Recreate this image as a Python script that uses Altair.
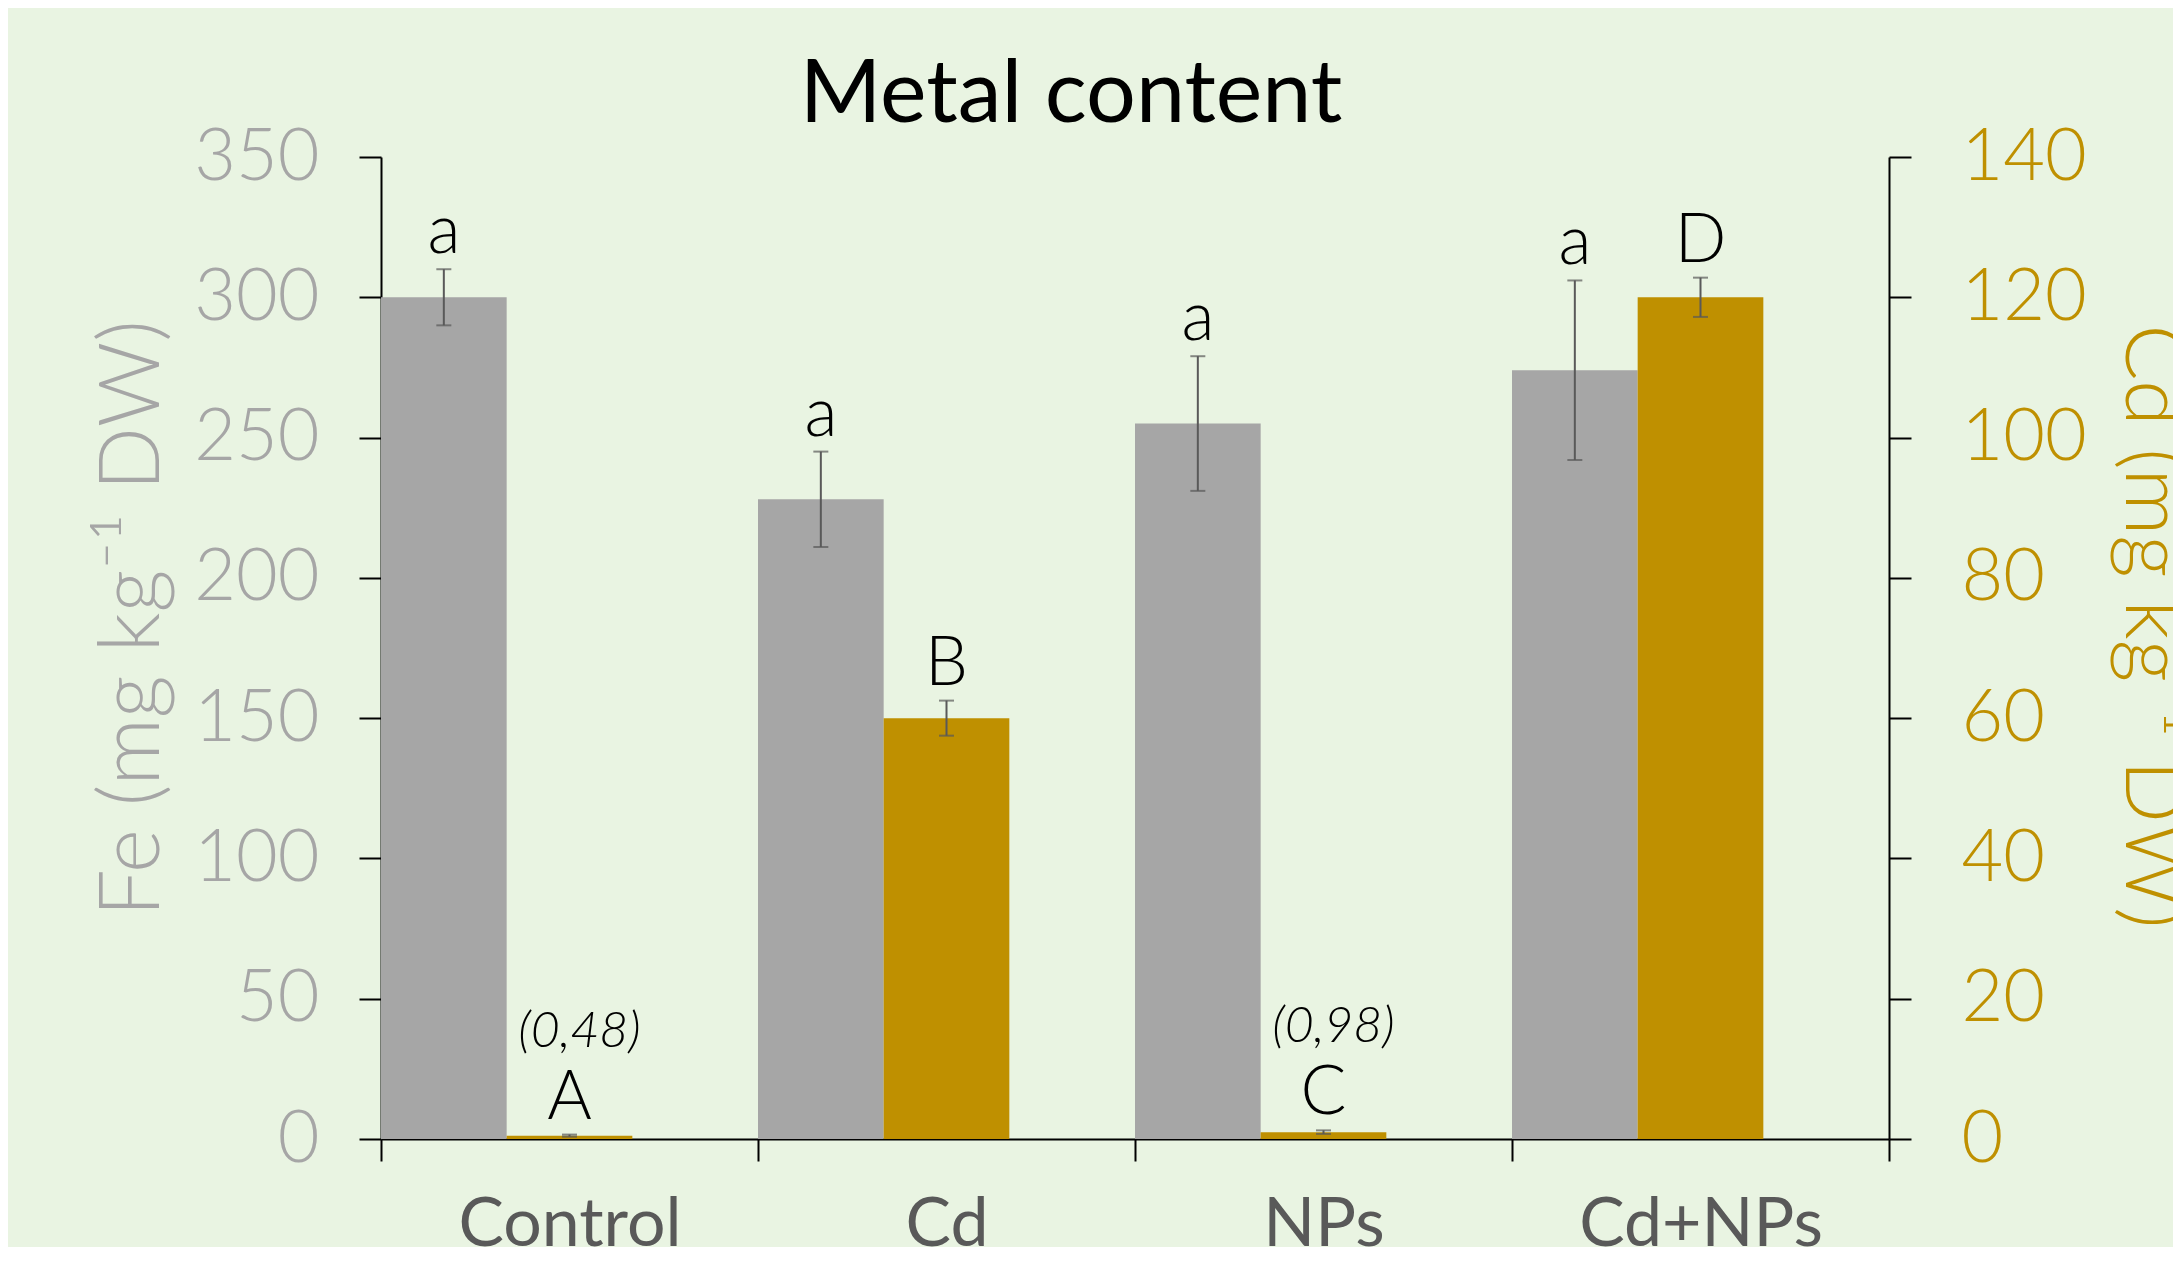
import altair as alt
import pandas as pd

categories = ["Control", "Cd", "NPs", "Cd+NPs"]
fe_mean = [300, 228, 255, 274]
fe_err = [10, 17, 24, 32]
fe_letters = ["a", "a", "a", "a"]
cd_mean = [0.48, 60, 0.98, 120]
cd_err = [0.15, 2.5, 0.25, 2.8]
cd_letters = ["A", "B", "C", "D"]
cd_notes = ["(0,48)", "", "(0,98)", ""]
fe_ticks = [0, 50, 100, 150, 200, 250, 300, 350]
cd_ticks = [0, 20, 40, 60, 80, 100, 120, 140]

fe_df = pd.DataFrame({
    "cat": categories, "series": "Fe", "value": fe_mean,
    "lo": [m - e for m, e in zip(fe_mean, fe_err)],
    "hi": [m + e for m, e in zip(fe_mean, fe_err)],
    "letter": fe_letters,
})
cd_df = pd.DataFrame({
    "cat": categories, "series": "Cd", "value": cd_mean,
    "lo": [max(m - e, 0) for m, e in zip(cd_mean, cd_err)],
    "hi": [m + e for m, e in zip(cd_mean, cd_err)],
    "letter": cd_letters, "note": cd_notes,
})

FONT = "Lato, Open Sans, sans-serif"
GRAY = "#A6A6A6"
GOLD = "#BF9000"
ERR = "#595959"
BG = "#E9F4E2"

x_enc = alt.X(
    "cat:N", sort=categories,
    scale=alt.Scale(domain=categories, paddingInner=0, paddingOuter=0),
    axis=alt.Axis(title=None, labelAngle=0, tickBand="extent", tickSize=22,
                  labelFont=FONT, labelFontSize=68, labelColor="#595959",
                  labelLimit=600, labelPadding=30, domainColor="black",
                  tickColor="black", domainWidth=2, tickWidth=2),
)
xo_enc = alt.XOffset("series:N", scale=alt.Scale(domain=["Fe", "Cd", "gap"],
                                                  paddingInner=0, paddingOuter=0))

fe_scale = alt.Scale(domain=[0, 350], nice=False)
cd_scale = alt.Scale(domain=[0, 140], nice=False)

fe_axis = alt.Axis(orient="left", values=fe_ticks, title="Fe (mg kg⁻¹ DW)",
                   titleFont=FONT, titleFontSize=84, titleFontWeight=300,
                   titleColor=GRAY, titleX=-248, titleY=461, titleAlign="center",
                   titleBaseline="middle", titleAngle=270,
                   labelFont=FONT, labelFontSize=72, labelFontWeight=300,
                   labelColor=GRAY, labelPadding=40, tickSize=22, grid=False,
                   domainColor="black", tickColor="black", domainWidth=2, tickWidth=2)
cd_axis = alt.Axis(orient="right", values=cd_ticks, title="Cd (mg kg⁻¹ DW)",
                   titleFont=FONT, titleFontSize=83, titleFontWeight=300,
                   titleColor=GOLD, titleX=261, titleY=469, titleAlign="center",
                   titleBaseline="middle", titleAngle=90,
                   labelFont=FONT, labelFontSize=72, labelFontWeight=300,
                   labelColor=GOLD, labelPadding=50, tickSize=22, grid=False,
                   domainColor="black", tickColor="black", domainWidth=2, tickWidth=2)


def series_layer(df, color, scale, axis, with_note=False):
    bars = alt.Chart(df).mark_bar(color=color).encode(
        x=x_enc, xOffset=xo_enc, y=alt.Y("value:Q", scale=scale, axis=axis))
    rule = alt.Chart(df).mark_rule(color=ERR, strokeWidth=2).encode(
        x=x_enc, xOffset=xo_enc, y=alt.Y("lo:Q", scale=scale, axis=axis), y2="hi:Q")
    cap_hi = alt.Chart(df).mark_tick(color=ERR, thickness=2, size=15, orient="horizontal").encode(
        x=x_enc, xOffset=xo_enc, y=alt.Y("hi:Q", scale=scale, axis=axis))
    cap_lo = alt.Chart(df).mark_tick(color=ERR, thickness=2, size=15, orient="horizontal").encode(
        x=x_enc, xOffset=xo_enc, y=alt.Y("lo:Q", scale=scale, axis=axis))
    text = alt.Chart(df).mark_text(font=FONT, fontSize=68, fontWeight=300,
                                   baseline="alphabetic", dy=-16, color="black").encode(
        x=x_enc, xOffset=xo_enc, y=alt.Y("hi:Q", scale=scale, axis=axis), text="letter:N")
    layers = [bars, rule, cap_hi, cap_lo, text]
    if with_note:
        note = alt.Chart(df).mark_text(font=FONT, fontSize=50, fontStyle="italic",
                                       fontWeight=300, baseline="alphabetic",
                                       dy=-88, dx=10, color="black").encode(
            x=x_enc, xOffset=xo_enc, y=alt.Y("hi:Q", scale=scale, axis=axis), text="note:N")
        layers.append(note)
    return alt.layer(*layers)


fe_layer = series_layer(fe_df, GRAY, fe_scale, fe_axis)
cd_layer = series_layer(cd_df, GOLD, cd_scale, cd_axis, with_note=True)

chart = alt.layer(fe_layer, cd_layer).resolve_scale(y="independent").properties(
    width=1508, height=982,
    title=alt.TitleParams("Metal content", font=FONT, fontSize=88, fontWeight="normal",
                          color="black", anchor="middle", dx=-64, offset=-19),
    background=BG,
    padding={"left": 373, "top": 149, "right": 284, "bottom": 108},
    autosize=alt.AutoSizeParams(type="none"),
).configure_view(stroke=None).configure_axis(grid=False)

chart.save("out.html", embed_options={"renderer": "svg", "actions": False})
